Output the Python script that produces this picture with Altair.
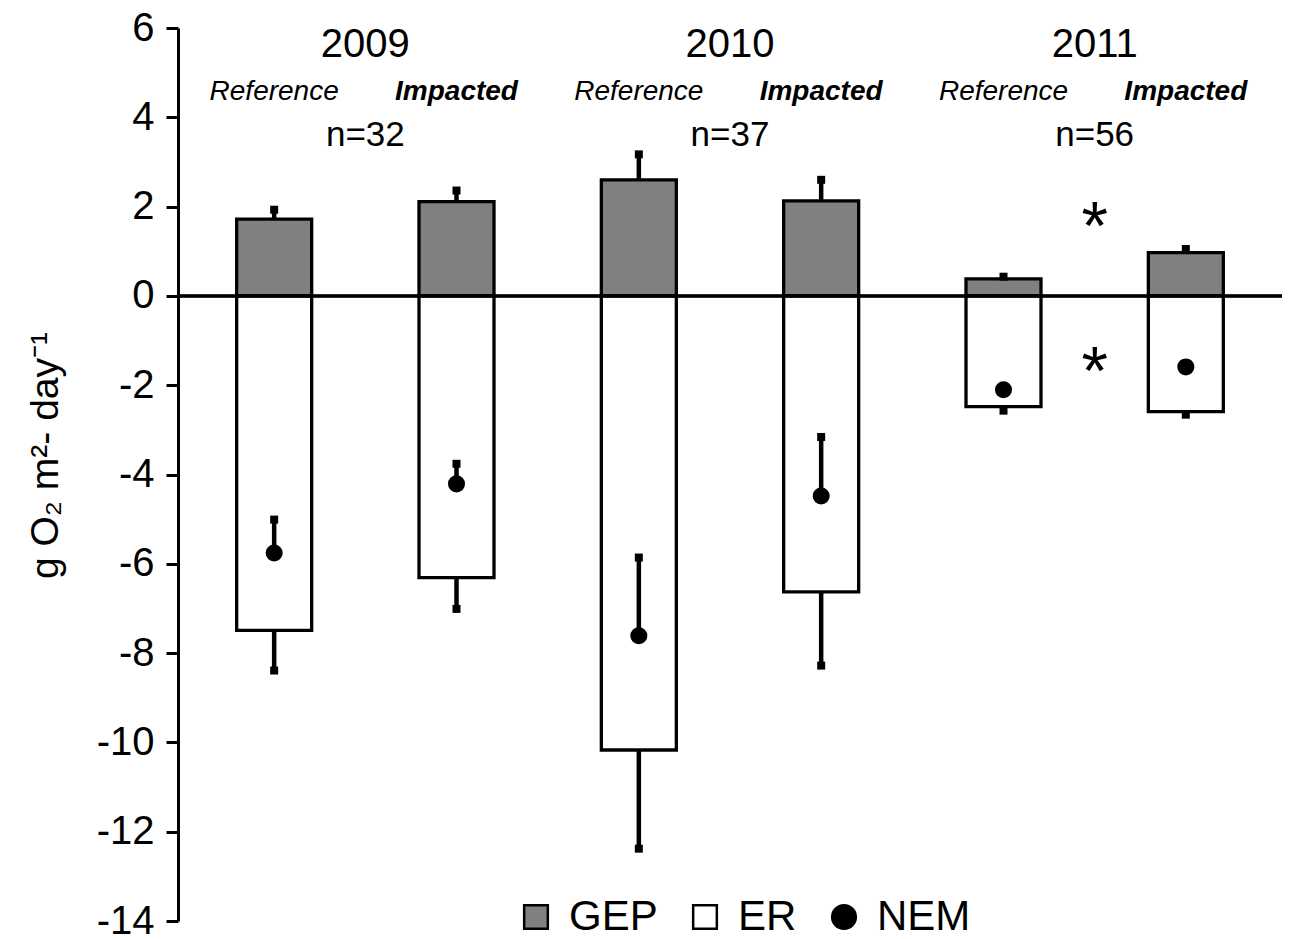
import altair as alt
import pandas as pd

FONT = "Liberation Sans"

# Six site-years: Reference / Impacted for 2009, 2010, 2011
sites = ["Reference", "Impacted", "Reference", "Impacted", "Reference", "Impacted"]
gep = [1.72, 2.11, 2.60, 2.13, 0.38, 0.97]
gep_err = [1.93, 2.36, 3.17, 2.60, 0.43, 1.05]
er = [-7.49, -6.31, -10.17, -6.63, -2.48, -2.59]
er_err = [-8.39, -7.01, -12.38, -8.28, -2.57, -2.66]
nem = [-5.76, -4.21, -7.61, -4.48, -2.10, -1.59]
nem_err = [-5.01, -3.76, -5.86, -3.16, -2.10, -1.59]

years = ["2009", "2010", "2011"]
sample_sizes = ["n=32", "n=37", "n=56"]
y_ticks = [-14, -12, -10, -8, -6, -4, -2, 0, 2, 4, 6]
legend_series = ["GEP", "ER", "NEM"]

pos = [i + 0.5 for i in range(len(sites))]
bars = pd.DataFrame({"pos": pos, "site": sites, "gep": gep, "gep_err": gep_err,
                     "er": er, "er_err": er_err, "nem": nem, "nem_err": nem_err})

stems = pd.DataFrame({
    "pos": pos * 3,
    "start": gep + er + nem,
    "end": gep_err + er_err + nem_err,
})

year_df = pd.DataFrame({"x": [1.0, 3.0, 5.0], "year": years, "n": sample_sizes})
ref_df = bars[bars["site"] == "Reference"]
imp_df = bars[bars["site"] == "Impacted"]
star_df = pd.DataFrame({"x": [5.0, 5.0], "y": [1.05, -2.20], "t": ["*", "*"]})
legend_df = pd.DataFrame({"series": legend_series})

x_scale = alt.Scale(domain=[0, 6])
y_scale = alt.Scale(domain=[-14, 6], nice=False, zero=False)
y_title = "g O\u2082 m\u00b2- day\u207b\u00b9"
y_axis = alt.Axis(
    values=y_ticks, title=y_title, grid=False, labelExpr="'' + datum.value",
    domainColor="black", domainWidth=3, tickColor="black", tickWidth=3, tickSize=12,
    labelFont=FONT, labelFontSize=40, labelColor="black", labelPadding=12,
    titleFont=FONT, titleFontSize=39, titleFontWeight="normal", titleColor="black",
    titleX=-133, titleY=427, titleAngle=270, titleAlign="center", titleBaseline="middle",
)


def X(field):
    return alt.X(field, type="quantitative", scale=x_scale, axis=None)


def Y(field):
    return alt.Y(field, type="quantitative", scale=y_scale, axis=y_axis)


def Ydatum(value):
    return alt.Y(datum=value, type="quantitative", scale=y_scale, axis=y_axis)


base = alt.Chart(bars)

gep_bars = base.mark_bar(size=75, fill="#808080", stroke="black", strokeWidth=3.3).encode(
    x=X("pos"), y=Y("gep"), y2=alt.datum(0))
er_bars = base.mark_bar(size=75, fill="white", stroke="black", strokeWidth=3.3).encode(
    x=X("pos"), y=Y("er"), y2=alt.datum(0))

zero_line = alt.Chart(bars).mark_rule(color="black", strokeWidth=2.5).encode(y=Ydatum(0))

stem_lines = alt.Chart(stems).mark_rule(color="black", strokeWidth=4.5).encode(
    x=X("pos"), y=Y("start"), y2="end")
caps = alt.Chart(stems).mark_square(color="black", size=64, opacity=1).encode(
    x=X("pos"), y=Y("end"))

nem_points = base.mark_circle(color="black", size=290, opacity=1).encode(
    x=X("pos"), y=Y("nem"))

year_text = alt.Chart(year_df).mark_text(
    font=FONT, fontSize=40, color="black", baseline="alphabetic").encode(
    x=X("x"), y=Ydatum(5.35), text="year")
n_text = alt.Chart(year_df).mark_text(
    font=FONT, fontSize=35, color="black", baseline="alphabetic").encode(
    x=X("x"), y=Ydatum(3.36), text="n")
ref_text = alt.Chart(ref_df).mark_text(
    font=FONT, fontSize=28, fontStyle="italic", color="black", baseline="alphabetic").encode(
    x=X("pos"), y=Ydatum(4.39), text="site")
imp_text = alt.Chart(imp_df).mark_text(
    font=FONT, fontSize=28, fontStyle="italic", fontWeight="bold", color="black",
    baseline="alphabetic").encode(
    x=X("pos"), y=Ydatum(4.39), text="site")
stars = alt.Chart(star_df).mark_text(
    font=FONT, fontSize=68, color="black", baseline="alphabetic").encode(
    x=X("x"), y=Y("y"), text="t")

legend = alt.Legend(
    orient="none", legendX=337, legendY=868, direction="horizontal", title=None,
    labelFont=FONT, labelFontSize=42, labelColor="black", labelOffset=12,
    columnPadding=26, padding=0, symbolStrokeWidth=2.5,
)
legend_layer = alt.Chart(legend_df).mark_point(
    filled=True, strokeWidth=2.5, clip=True, opacity=1).encode(
    x=alt.X(datum=3, type="quantitative", scale=x_scale, axis=None),
    y=Ydatum(-100),
    fill=alt.Fill("series:N", sort=legend_series,
                  scale=alt.Scale(domain=legend_series, range=["#808080", "white", "black"]),
                  legend=legend),
    stroke=alt.Stroke("series:N", sort=legend_series,
                      scale=alt.Scale(domain=legend_series, range=["black", "black", "black"]),
                      legend=legend),
    shape=alt.Shape("series:N", sort=legend_series,
                    scale=alt.Scale(domain=legend_series, range=["square", "square", "circle"]),
                    legend=legend),
    size=alt.Size("series:N", sort=legend_series,
                  scale=alt.Scale(domain=legend_series, range=[560, 560, 230]),
                  legend=legend),
)

chart = alt.layer(
    gep_bars, er_bars, zero_line, stem_lines, caps, nem_points,
    year_text, n_text, ref_text, imp_text, stars, legend_layer,
).properties(
    width=1104, height=893,
    padding={"left": 178, "top": 28, "right": 13, "bottom": 18},
    autosize=alt.AutoSizeParams(type="none"),
).configure(
    background="white", view=alt.ViewConfig(stroke=None)
)

chart.save("out.html", embed_options={"renderer": "svg", "actions": False})
